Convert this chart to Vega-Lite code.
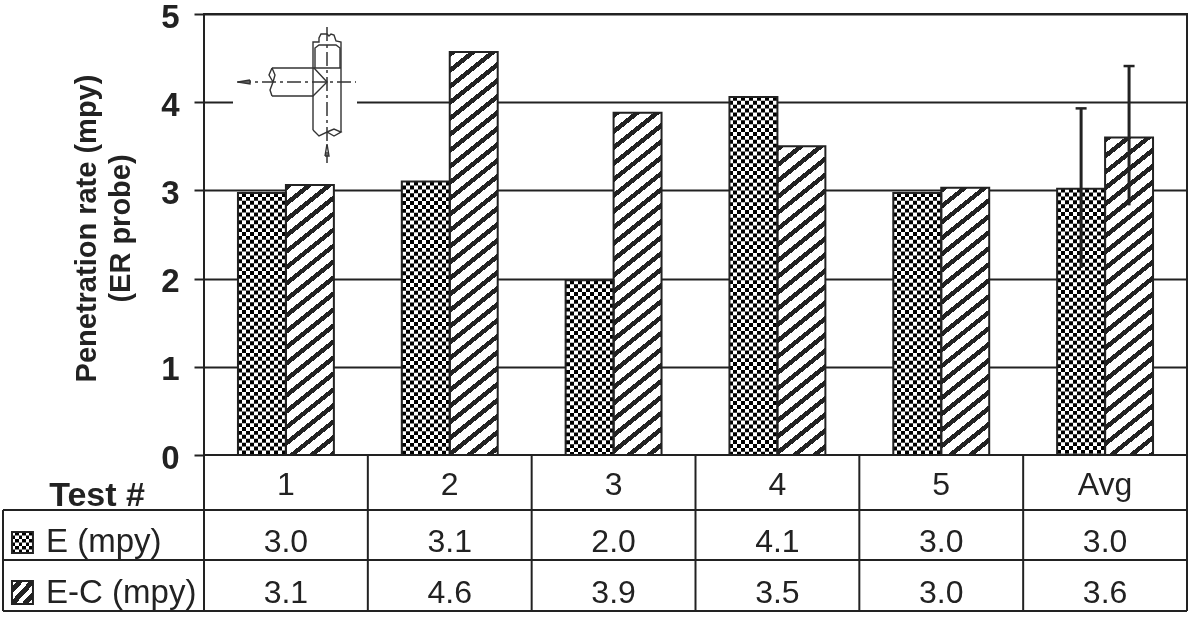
{
  "$schema": "https://vega.github.io/schema/vega-lite/v6.json",
  "width": 983,
  "height": 441,
  "autosize": "none",
  "padding": {"left": 204, "top": 14, "right": 5, "bottom": 162},
  "background": "white",
  "config": {"view": {"stroke": "#222", "strokeWidth": 2}, "font": "Liberation Sans"},
  "datasets": {
    "bars": [
      {"test": "1", "series": "E", "value": 2.97},
      {"test": "2", "series": "E", "value": 3.1},
      {"test": "3", "series": "E", "value": 1.98},
      {"test": "4", "series": "E", "value": 4.06},
      {"test": "5", "series": "E", "value": 2.97},
      {"test": "Avg", "series": "E", "value": 3.02},
      {"test": "1", "series": "E-C", "value": 3.06},
      {"test": "2", "series": "E-C", "value": 4.57},
      {"test": "3", "series": "E-C", "value": 3.88},
      {"test": "4", "series": "E-C", "value": 3.5},
      {"test": "5", "series": "E-C", "value": 3.03},
      {"test": "Avg", "series": "E-C", "value": 3.6}
    ],
    "errs": [
      {"test": "Avg", "series": "E", "hi": 3.93, "lo": 2.12},
      {"test": "Avg", "series": "E-C", "hi": 4.41, "lo": 2.83}
    ],
    "tableLines": [
      {"x": 0, "x2": 6, "y": 0, "y2": 0},
      {"x": -1.227, "x2": 6, "y": -0.624, "y2": -0.624},
      {"x": -1.227, "x2": 6, "y": -1.19, "y2": -1.19},
      {"x": -1.227, "x2": 6, "y": -1.769, "y2": -1.769},
      {"x": -1.227, "x2": -1.227, "y": -0.624, "y2": -1.769},
      {"x": 0, "x2": 0, "y": 0, "y2": -1.769},
      {"x": 1, "x2": 1, "y": 0, "y2": -1.769},
      {"x": 2, "x2": 2, "y": 0, "y2": -1.769},
      {"x": 3, "x2": 3, "y": 0, "y2": -1.769},
      {"x": 4, "x2": 4, "y": 0, "y2": -1.769},
      {"x": 5, "x2": 5, "y": 0, "y2": -1.769},
      {"x": 6, "x2": 6, "y": 0, "y2": -1.769}
    ],
    "fitting": [
      {"path": "a", "o": 1, "px": 313, "py": 130},
      {"path": "a", "o": 2, "px": 313, "py": 42},
      {"path": "a", "o": 3, "px": 319, "py": 42},
      {"path": "a", "o": 4, "px": 319, "py": 38},
      {"path": "a", "o": 5, "px": 321, "py": 34},
      {"path": "a", "o": 6, "px": 327, "py": 34},
      {"path": "a", "o": 7, "px": 329, "py": 36},
      {"path": "a", "o": 8, "px": 331, "py": 34},
      {"path": "a", "o": 9, "px": 334, "py": 35},
      {"path": "a", "o": 10, "px": 336, "py": 41},
      {"path": "a", "o": 11, "px": 341, "py": 42},
      {"path": "a", "o": 12, "px": 341, "py": 132},
      {"path": "b", "o": 1, "px": 315, "py": 68},
      {"path": "b", "o": 2, "px": 315, "py": 48},
      {"path": "b", "o": 3, "px": 319, "py": 45},
      {"path": "b", "o": 4, "px": 336, "py": 45},
      {"path": "b", "o": 5, "px": 340, "py": 48},
      {"path": "b", "o": 6, "px": 340, "py": 68},
      {"path": "c", "o": 1, "px": 272, "py": 68},
      {"path": "c", "o": 2, "px": 341, "py": 68},
      {"path": "d", "o": 1, "px": 272, "py": 96},
      {"path": "d", "o": 2, "px": 313, "py": 96},
      {"path": "d", "o": 3, "px": 327, "py": 82},
      {"path": "d", "o": 4, "px": 314, "py": 68},
      {"path": "e", "o": 1, "px": 313, "py": 130},
      {"path": "e", "o": 2, "px": 319, "py": 136},
      {"path": "e", "o": 3, "px": 327, "py": 132},
      {"path": "e", "o": 4, "px": 334, "py": 136},
      {"path": "e", "o": 5, "px": 341, "py": 132},
      {"path": "e", "o": 6, "px": 334, "py": 129},
      {"path": "e", "o": 7, "px": 327, "py": 132},
      {"path": "f", "o": 1, "px": 272, "py": 68},
      {"path": "f", "o": 2, "px": 269, "py": 75},
      {"path": "f", "o": 3, "px": 273, "py": 82},
      {"path": "f", "o": 4, "px": 270, "py": 90},
      {"path": "f", "o": 5, "px": 272, "py": 96},
      {"path": "g", "o": 1, "px": 272, "py": 68},
      {"path": "g", "o": 2, "px": 275, "py": 75},
      {"path": "g", "o": 3, "px": 273, "py": 82},
      {"path": "h", "o": 1, "px": 250, "py": 80},
      {"path": "h", "o": 2, "px": 238, "py": 82},
      {"path": "h", "o": 3, "px": 250, "py": 84},
      {"path": "h", "o": 4, "px": 250, "py": 80},
      {"path": "i", "o": 1, "px": 325, "py": 156},
      {"path": "i", "o": 2, "px": 327, "py": 144},
      {"path": "i", "o": 3, "px": 329, "py": 156},
      {"path": "i", "o": 4, "px": 325, "py": 156}
    ]
  },
  "data": {"name": "bars"},
  "resolve": {"scale": {"x": "independent", "y": "independent", "xOffset": "independent"}},
  "layer": [
    {
      "encoding": {
        "x": {"field": "test", "type": "nominal", "axis": null, "scale": {"domain": ["1", "2", "3", "4", "5", "Avg"], "paddingInner": 0, "paddingOuter": 0}},
        "xOffset": {"field": "series", "type": "nominal", "scale": {"domain": ["E", "E-C"], "paddingInner": 0, "paddingOuter": 0.708}},
        "y": {
          "field": "value", "type": "quantitative",
          "scale": {"domain": [0, 5], "nice": false},
          "axis": {
            "values": [0, 1, 2, 3, 4, 5],
            "title": ["Penetration rate (mpy)", "(ER probe)"],
            "grid": true, "gridColor": "#222", "gridWidth": 2,
            "domain": false,
            "tickSize": 10, "tickWidth": 2, "tickColor": "#222",
            "labelFont": "Liberation Sans", "labelFontWeight": "bold", "labelFontSize": 33, "labelColor": "#222", "labelPadding": 15, "labelOffset": 3,
            "titleFont": "Liberation Sans", "titleFontWeight": "bold", "titleFontSize": 29, "titleColor": "#222", "titlePadding": 25, "titleLineHeight": 34, "titleY": 214
          }
        }
      },
      "layer": [
        {
          "transform": [{"filter": "datum.series == 'E'"}],
          "mark": {"type": "bar", "fill": {
            "gradient": "linear", "x1": 0, "y1": 0, "x2": 1, "y2": 0,
            "stops": [
              {"offset": 0, "color": "#000"}, {"offset": 0.0833, "color": "#000"}, {"offset": 0.0833, "color": "#fff"}, {"offset": 0.1667, "color": "#fff"},
              {"offset": 0.1667, "color": "#000"}, {"offset": 0.25, "color": "#000"}, {"offset": 0.25, "color": "#fff"}, {"offset": 0.3333, "color": "#fff"},
              {"offset": 0.3333, "color": "#000"}, {"offset": 0.4167, "color": "#000"}, {"offset": 0.4167, "color": "#fff"}, {"offset": 0.5, "color": "#fff"},
              {"offset": 0.5, "color": "#000"}, {"offset": 0.5833, "color": "#000"}, {"offset": 0.5833, "color": "#fff"}, {"offset": 0.6667, "color": "#fff"},
              {"offset": 0.6667, "color": "#000"}, {"offset": 0.75, "color": "#000"}, {"offset": 0.75, "color": "#fff"}, {"offset": 0.8333, "color": "#fff"},
              {"offset": 0.8333, "color": "#000"}, {"offset": 0.9167, "color": "#000"}, {"offset": 0.9167, "color": "#fff"}, {"offset": 1, "color": "#fff"}
            ]
          }}
        },
        {
          "transform": [{"filter": "datum.series == 'E'"}],
          "mark": {"type": "rule", "stroke": "#fff", "strokeWidth": 47, "strokeDash": [3.9, 3.9], "blend": "difference"},
          "encoding": {"y2": {"datum": 0}}
        },
        {
          "transform": [{"filter": "datum.series == 'E-C'"}],
          "mark": {"type": "rect", "height": 441, "yOffset": 220.5, "width": 48, "fill": {
            "gradient": "linear", "x1": 0, "y1": 0, "x2": 0.09394, "y2": 1.07889,
            "stops": [
              {"offset": 0, "color": "#222"}, {"offset": 0.012, "color": "#222"}, {"offset": 0.012, "color": "#fff"}, {"offset": 0.0333, "color": "#fff"},
              {"offset": 0.0333, "color": "#222"}, {"offset": 0.0453, "color": "#222"}, {"offset": 0.0453, "color": "#fff"}, {"offset": 0.0667, "color": "#fff"},
              {"offset": 0.0667, "color": "#222"}, {"offset": 0.0787, "color": "#222"}, {"offset": 0.0787, "color": "#fff"}, {"offset": 0.1, "color": "#fff"},
              {"offset": 0.1, "color": "#222"}, {"offset": 0.112, "color": "#222"}, {"offset": 0.112, "color": "#fff"}, {"offset": 0.1333, "color": "#fff"},
              {"offset": 0.1333, "color": "#222"}, {"offset": 0.1453, "color": "#222"}, {"offset": 0.1453, "color": "#fff"}, {"offset": 0.1667, "color": "#fff"},
              {"offset": 0.1667, "color": "#222"}, {"offset": 0.1787, "color": "#222"}, {"offset": 0.1787, "color": "#fff"}, {"offset": 0.2, "color": "#fff"},
              {"offset": 0.2, "color": "#222"}, {"offset": 0.212, "color": "#222"}, {"offset": 0.212, "color": "#fff"}, {"offset": 0.2333, "color": "#fff"},
              {"offset": 0.2333, "color": "#222"}, {"offset": 0.2453, "color": "#222"}, {"offset": 0.2453, "color": "#fff"}, {"offset": 0.2667, "color": "#fff"},
              {"offset": 0.2667, "color": "#222"}, {"offset": 0.2787, "color": "#222"}, {"offset": 0.2787, "color": "#fff"}, {"offset": 0.3, "color": "#fff"},
              {"offset": 0.3, "color": "#222"}, {"offset": 0.312, "color": "#222"}, {"offset": 0.312, "color": "#fff"}, {"offset": 0.3333, "color": "#fff"},
              {"offset": 0.3333, "color": "#222"}, {"offset": 0.3453, "color": "#222"}, {"offset": 0.3453, "color": "#fff"}, {"offset": 0.3667, "color": "#fff"},
              {"offset": 0.3667, "color": "#222"}, {"offset": 0.3787, "color": "#222"}, {"offset": 0.3787, "color": "#fff"}, {"offset": 0.4, "color": "#fff"},
              {"offset": 0.4, "color": "#222"}, {"offset": 0.412, "color": "#222"}, {"offset": 0.412, "color": "#fff"}, {"offset": 0.4333, "color": "#fff"},
              {"offset": 0.4333, "color": "#222"}, {"offset": 0.4453, "color": "#222"}, {"offset": 0.4453, "color": "#fff"}, {"offset": 0.4667, "color": "#fff"},
              {"offset": 0.4667, "color": "#222"}, {"offset": 0.4787, "color": "#222"}, {"offset": 0.4787, "color": "#fff"}, {"offset": 0.5, "color": "#fff"},
              {"offset": 0.5, "color": "#222"}, {"offset": 0.512, "color": "#222"}, {"offset": 0.512, "color": "#fff"}, {"offset": 0.5333, "color": "#fff"},
              {"offset": 0.5333, "color": "#222"}, {"offset": 0.5453, "color": "#222"}, {"offset": 0.5453, "color": "#fff"}, {"offset": 0.5667, "color": "#fff"},
              {"offset": 0.5667, "color": "#222"}, {"offset": 0.5787, "color": "#222"}, {"offset": 0.5787, "color": "#fff"}, {"offset": 0.6, "color": "#fff"},
              {"offset": 0.6, "color": "#222"}, {"offset": 0.612, "color": "#222"}, {"offset": 0.612, "color": "#fff"}, {"offset": 0.6333, "color": "#fff"},
              {"offset": 0.6333, "color": "#222"}, {"offset": 0.6453, "color": "#222"}, {"offset": 0.6453, "color": "#fff"}, {"offset": 0.6667, "color": "#fff"},
              {"offset": 0.6667, "color": "#222"}, {"offset": 0.6787, "color": "#222"}, {"offset": 0.6787, "color": "#fff"}, {"offset": 0.7, "color": "#fff"},
              {"offset": 0.7, "color": "#222"}, {"offset": 0.712, "color": "#222"}, {"offset": 0.712, "color": "#fff"}, {"offset": 0.7333, "color": "#fff"},
              {"offset": 0.7333, "color": "#222"}, {"offset": 0.7453, "color": "#222"}, {"offset": 0.7453, "color": "#fff"}, {"offset": 0.7667, "color": "#fff"},
              {"offset": 0.7667, "color": "#222"}, {"offset": 0.7787, "color": "#222"}, {"offset": 0.7787, "color": "#fff"}, {"offset": 0.8, "color": "#fff"},
              {"offset": 0.8, "color": "#222"}, {"offset": 0.812, "color": "#222"}, {"offset": 0.812, "color": "#fff"}, {"offset": 0.8333, "color": "#fff"},
              {"offset": 0.8333, "color": "#222"}, {"offset": 0.8453, "color": "#222"}, {"offset": 0.8453, "color": "#fff"}, {"offset": 0.8667, "color": "#fff"},
              {"offset": 0.8667, "color": "#222"}, {"offset": 0.8787, "color": "#222"}, {"offset": 0.8787, "color": "#fff"}, {"offset": 0.9, "color": "#fff"},
              {"offset": 0.9, "color": "#222"}, {"offset": 0.912, "color": "#222"}, {"offset": 0.912, "color": "#fff"}, {"offset": 0.9333, "color": "#fff"},
              {"offset": 0.9333, "color": "#222"}, {"offset": 0.9453, "color": "#222"}, {"offset": 0.9453, "color": "#fff"}, {"offset": 1, "color": "#fff"}
            ]
          }}
        },
        {
          "mark": {"type": "bar", "fill": "transparent", "stroke": "#222", "strokeWidth": 2}
        },
        {
          "data": {"name": "errs"},
          "mark": {"type": "rule", "stroke": "#222", "strokeWidth": 3},
          "encoding": {"y": {"field": "hi", "type": "quantitative"}, "y2": {"field": "lo"}}
        },
        {
          "data": {"name": "errs"},
          "mark": {"type": "tick", "orient": "horizontal", "size": 11, "thickness": 2.5, "color": "#222", "opacity": 1},
          "encoding": {"y": {"field": "hi", "type": "quantitative"}}
        }
      ]
    },
    {
      "data": {"values": [{"x": 0, "x2": 6.1, "y": 0, "y2": -2.2}]},
      "mark": {"type": "rect", "fill": "white"},
      "encoding": {
        "x": {"field": "x", "type": "quantitative", "axis": null, "scale": {"domain": [0, 6], "nice": false, "zero": false}},
        "x2": {"field": "x2"},
        "y": {"field": "y", "type": "quantitative", "axis": null, "scale": {"domain": [0, 5], "nice": false}},
        "y2": {"field": "y2"}
      }
    },
    {
      "data": {"name": "tableLines"},
      "mark": {"type": "rule", "stroke": "#222", "strokeWidth": 2},
      "encoding": {
        "x": {"field": "x", "type": "quantitative", "axis": null, "scale": {"domain": [0, 6], "nice": false, "zero": false}},
        "x2": {"field": "x2"},
        "y": {"field": "y", "type": "quantitative", "axis": null, "scale": {"domain": [0, 5], "nice": false}},
        "y2": {"field": "y2"}
      }
    },
    {
      "encoding": {
        "x": {"field": "test", "type": "nominal", "axis": null, "scale": {"domain": ["1", "2", "3", "4", "5", "Avg"], "paddingInner": 0, "paddingOuter": 0}},
        "y": {"datum": -0.335, "type": "quantitative", "axis": null, "scale": {"domain": [0, 5], "nice": false}}
      },
      "layer": [
        {
          "transform": [{"filter": "datum.series == 'E'"}],
          "mark": {"type": "text", "font": "Liberation Sans", "fontSize": 32, "fill": "#222"},
          "encoding": {"text": {"field": "test"}}
        },
        {
          "transform": [{"filter": "datum.series == 'E'"}],
          "mark": {"type": "text", "font": "Liberation Sans", "fontSize": 32, "fill": "#222"},
          "encoding": {"y": {"datum": -0.985, "type": "quantitative"}, "text": {"field": "value", "format": ".1f"}}
        },
        {
          "transform": [{"filter": "datum.series == 'E-C'"}],
          "mark": {"type": "text", "font": "Liberation Sans", "fontSize": 32, "fill": "#222"},
          "encoding": {"y": {"datum": -1.563, "type": "quantitative"}, "text": {"field": "value", "format": ".1f"}}
        }
      ]
    },
    {
      "data": {"values": [
        {"label": "E (mpy)", "x": -0.964, "y": -0.985},
        {"label": "E-C (mpy)", "x": -0.964, "y": -1.563}
      ]},
      "mark": {"type": "text", "font": "Liberation Sans", "fontSize": 33, "fill": "#222", "align": "left"},
      "encoding": {
        "x": {"field": "x", "type": "quantitative", "axis": null, "scale": {"domain": [0, 6], "nice": false, "zero": false}},
        "y": {"field": "y", "type": "quantitative", "axis": null, "scale": {"domain": [0, 5], "nice": false}},
        "text": {"field": "label"}
      }
    },
    {
      "data": {"values": [{"label": "Test #", "x": -0.653, "y": -0.465}]},
      "mark": {"type": "text", "font": "Liberation Sans", "fontSize": 34, "fontWeight": "bold", "fill": "#222"},
      "encoding": {
        "x": {"field": "x", "type": "quantitative", "axis": null, "scale": {"domain": [0, 6], "nice": false, "zero": false}},
        "y": {"field": "y", "type": "quantitative", "axis": null, "scale": {"domain": [0, 5], "nice": false}},
        "text": {"field": "label"}
      }
    },
    {
      "data": {"values": [{"series": "E", "x": -1.172, "x2": -1.044, "y": -0.873, "y2": -1.111, "xm": -1.108}]},
      "encoding": {
        "x": {"field": "x", "type": "quantitative", "axis": null, "scale": {"domain": [0, 6], "nice": false, "zero": false}},
        "y": {"field": "y", "type": "quantitative", "axis": null, "scale": {"domain": [0, 5], "nice": false}},
        "y2": {"field": "y2"}
      },
      "layer": [
        {
          "mark": {"type": "rect", "fill": {
            "gradient": "linear", "x1": 0, "y1": 0, "x2": 1, "y2": 0,
            "stops": [
              {"offset": 0, "color": "#000"}, {"offset": 0.1667, "color": "#000"}, {"offset": 0.1667, "color": "#fff"}, {"offset": 0.3333, "color": "#fff"},
              {"offset": 0.3333, "color": "#000"}, {"offset": 0.5, "color": "#000"}, {"offset": 0.5, "color": "#fff"}, {"offset": 0.6667, "color": "#fff"},
              {"offset": 0.6667, "color": "#000"}, {"offset": 0.8333, "color": "#000"}, {"offset": 0.8333, "color": "#fff"}, {"offset": 1, "color": "#fff"}
            ]
          }},
          "encoding": {"x2": {"field": "x2"}}
        },
        {
          "mark": {"type": "rule", "stroke": "#fff", "strokeWidth": 20, "strokeDash": [3.5, 3.5], "blend": "difference"},
          "encoding": {"x": {"field": "xm", "type": "quantitative"}}
        },
        {
          "mark": {"type": "rect", "fill": "transparent", "stroke": "#222", "strokeWidth": 2},
          "encoding": {"x2": {"field": "x2"}}
        }
      ]
    },
    {
      "data": {"values": [{"series": "E-C", "x": -1.172, "x2": -1.044, "y": -1.429, "y2": -1.689}]},
      "mark": {"type": "rect", "stroke": "#222", "strokeWidth": 2, "fill": {
        "gradient": "linear", "x1": 0, "y1": 0, "x2": 1, "y2": 1,
        "stops": [
          {"offset": 0, "color": "#fff"}, {"offset": 0.12, "color": "#fff"}, {"offset": 0.12, "color": "#222"}, {"offset": 0.28, "color": "#222"},
          {"offset": 0.28, "color": "#fff"}, {"offset": 0.42, "color": "#fff"}, {"offset": 0.42, "color": "#222"}, {"offset": 0.58, "color": "#222"},
          {"offset": 0.58, "color": "#fff"}, {"offset": 0.72, "color": "#fff"}, {"offset": 0.72, "color": "#222"}, {"offset": 0.88, "color": "#222"},
          {"offset": 0.88, "color": "#fff"}, {"offset": 1, "color": "#fff"}
        ]
      }},
      "encoding": {
        "x": {"field": "x", "type": "quantitative", "axis": null, "scale": {"domain": [0, 6], "nice": false, "zero": false}},
        "x2": {"field": "x2"},
        "y": {"field": "y", "type": "quantitative", "axis": null, "scale": {"domain": [0, 5], "nice": false}},
        "y2": {"field": "y2"}
      }
    },
    {
      "encoding": {
        "x": {"field": "px", "type": "quantitative", "axis": null, "scale": {"domain": [204, 1187], "nice": false, "zero": false}},
        "y": {"field": "py", "type": "quantitative", "axis": null, "scale": {"domain": [455, 14], "nice": false, "zero": false}}
      },
      "layer": [
        {
          "data": {"values": [{"px": 233, "px2": 357, "py": 102}]},
          "mark": {"type": "rule", "stroke": "white", "strokeWidth": 4},
          "encoding": {"x2": {"field": "px2"}}
        },
        {
          "data": {"values": [{"px": 237, "px2": 356, "py": 82}]},
          "mark": {"type": "rule", "stroke": "#333", "strokeWidth": 1.5, "strokeDash": [14, 4, 3, 4]},
          "encoding": {"x2": {"field": "px2"}}
        },
        {
          "data": {"values": [{"px": 327, "py": 27, "py2": 163}]},
          "mark": {"type": "rule", "stroke": "#333", "strokeWidth": 1.5, "strokeDash": [14, 4, 3, 4]},
          "encoding": {"y2": {"field": "py2"}}
        },
        {
          "data": {"name": "fitting"},
          "mark": {"type": "line", "stroke": "#333", "strokeWidth": 1.4},
          "encoding": {"detail": {"field": "path"}, "order": {"field": "o"}}
        }
      ]
    }
  ]
}
